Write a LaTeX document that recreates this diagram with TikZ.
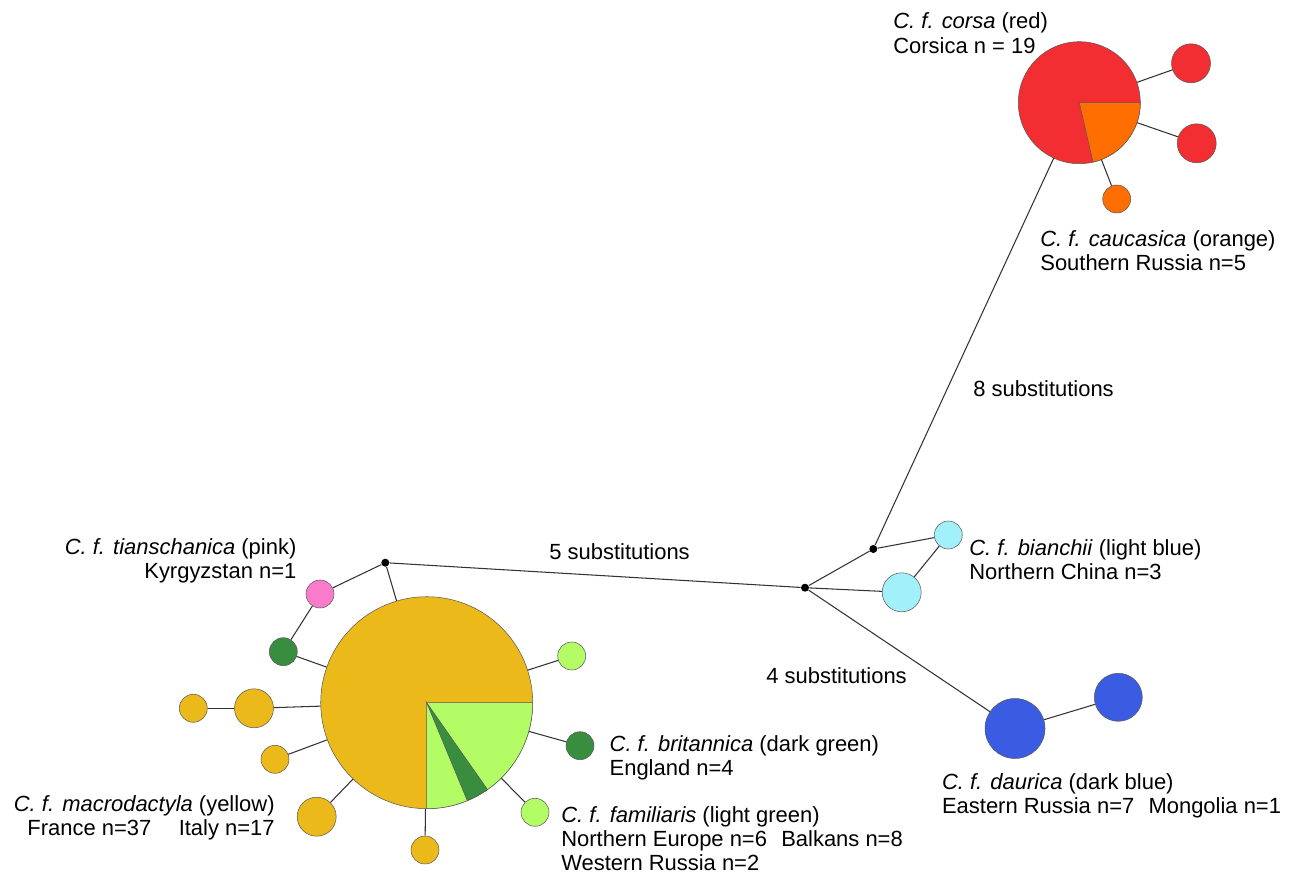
\documentclass[tikz,border=0pt]{standalone}
\usepackage{fontspec}
\setmainfont{Liberation Sans}
\usetikzlibrary{positioning}

\definecolor{yel}{RGB}{235,186,26}
\definecolor{lgreen}{RGB}{180,252,102}
\definecolor{dgreen}{RGB}{56,142,62}
\definecolor{pinkc}{RGB}{250,122,204}
\definecolor{lblue}{RGB}{162,240,250}
\definecolor{dblue}{RGB}{58,92,226}
\definecolor{redc}{RGB}{242,46,50}
\definecolor{orangec}{RGB}{255,110,0}

\begin{document}
\begin{tikzpicture}[x=0.02cm,y=0.02cm,
  hap/.style={circle,draw=gray!70!black,line width=0.3pt,inner sep=0pt},
  small/.style={hap,minimum size=0.56cm},
  mid/.style={hap,minimum size=0.78cm},
  dot/.style={circle,fill=black,inner sep=0pt,minimum size=0.16cm},
  lbl/.style={font=\fontsize{12.5}{13.7}\selectfont,inner sep=0pt,
  align=left,anchor=north west}]

  \useasboundingbox (0,0) rectangle (1295,-874);

  % macrodactyla / familiaris / britannica pie
  \node[hap,fill=yel,minimum size=4.24cm] (Y) at (426.7,-702.7) {};
  \filldraw[fill=lgreen,draw=gray!70!black,line width=0.3pt]
    (Y.center) -- ++(0:106) arc[start angle=0,end angle=-90,radius=106] -- cycle;
  \filldraw[fill=dgreen,draw=gray!70!black,line width=0.3pt]
    (Y.center) -- ++(-55:106) arc[start angle=-55,end angle=-67.5,radius=106] -- cycle;

  \node[dot] (J1) at (385.3,-562.7) {};
  \node[small,fill=pinkc] (P) at (320,-594) {};
  \node[small,fill=dgreen] (DG1) at (283.3,-651.7) {};
  \node[small,fill=lgreen] (LG1) at (571.7,-656) {};
  \node[mid,fill=yel] (YM1) at (254,-708.3) {};
  \node[small,fill=yel] (YS1) at (193.3,-708.3) {};
  \node[small,fill=yel] (YS2) at (275,-759.3) {};
  \node[mid,fill=yel] (YM2) at (316.7,-816.7) {};
  \node[small,fill=yel] (YS3) at (425,-850) {};
  \node[small,fill=dgreen] (DG2) at (580,-745.7) {};
  \node[small,fill=lgreen] (LG2) at (535,-812.3) {};

  % bianchii and daurica
  \node[dot] (J2) at (805,-587.7) {};
  \node[dot] (J3) at (873.3,-549) {};
  \node[small,fill=lblue] (LB1) at (948.3,-535) {};
  \node[mid,fill=lblue] (LB2) at (901.7,-592.3) {};
  \node[hap,fill=dblue,minimum size=1.2cm] (B1) at (1015,-728.5) {};
  \node[hap,fill=dblue,minimum size=0.96cm] (B2) at (1118.3,-697.3) {};

  % corsa / caucasica pie
  \node[hap,fill=redc,minimum size=2.44cm] (R) at (1079.3,-102.7) {};
  \filldraw[fill=orangec,draw=gray!70!black,line width=0.3pt]
    (R.center) -- ++(0:61) arc[start angle=0,end angle=-77,radius=61] -- cycle;
  \node[mid,fill=redc] (R1) at (1191,-63.3) {};
  \node[mid,fill=redc] (R2) at (1196.7,-143.3) {};
  \node[small,fill=orangec] (O1) at (1116.7,-199) {};

  \path[every edge/.style={draw,black!80,line width=0.6pt}]
    (J1) edge (P)
    (J1) edge (Y)
    (P) edge (DG1)
    (DG1) edge (Y)
    (LG1) edge (Y)
    (YS1) edge (YM1)
    (YM1) edge (Y)
    (YS2) edge (Y)
    (YM2) edge (Y)
    (YS3) edge (Y)
    (DG2) edge (Y)
    (LG2) edge (Y)
    %long branches
    (J1) edge (J2)
    (J2) edge (J3)
    (J3) edge (LB1)
    (LB1) edge (LB2)
    (J2) edge (LB2)
    (J2) edge (B1)
    (B1) edge (B2)
    (J3) edge (R)
    (R) edge (R1)
    (R) edge (R2)
    (R) edge (O1);

  % labels
  \node[lbl] (Lcorsa) at (893,-12.7) {\textit{C. f. corsa} (red)\\Corsica n = 19};
  \node[lbl] (Lcauc) at (1040,-230) {\textit{C. f. caucasica} (orange)\\Southern Russia n=5};
  \node[lbl] (S8) at (973,-380.7) {8 substitutions};
  \node[lbl] (S5) at (549,-543.3) {5 substitutions};
  \node[lbl] (S4) at (766,-667.7) {4 substitutions};
  \node[lbl,anchor=north east,align=right] (Ltian) at (296.7,-538)
    {\textit{C. f. tianschanica} (pink)\\Kyrgyzstan n=1};
  \node[lbl] (Lbian) at (969,-539) {\textit{C. f. bianchii} (light blue)\\Northern China n=3};
  \node[lbl] (Lbrit) at (609.3,-735) {\textit{C. f. britannica} (dark green)\\England n=4};
  \node[lbl] (Lfam) at (561,-806) {\textit{C. f. familiaris} (light green)\\
    Northern Europe n=6\hspace{0.65em}Balkans n=8\\Western Russia n=2};
  \node[lbl] (Ldaur) at (941.7,-773.3) {\textit{C. f. daurica} (dark blue)\\
    Eastern Russia n=7\hspace{0.65em}Mongolia n=1};
  \node[lbl,anchor=north east,align=right] (Lmacro) at (275,-795)
    {\textit{C. f. macrodactyla} (yellow)\\France n=37\hspace{1.25em}Italy n=17};
\end{tikzpicture}
\end{document}
